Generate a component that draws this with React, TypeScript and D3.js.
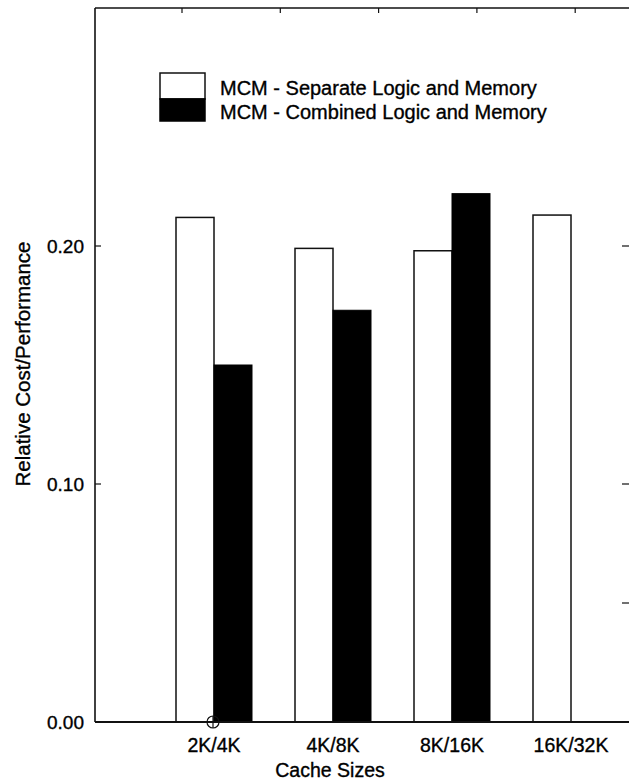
import React from "react";
import * as d3 from "d3";

// Cache size configurations along the x axis
const categories = ["2K/4K", "4K/8K", "8K/16K", "16K/32K"];
// Relative cost/performance per configuration
const separateValues = [0.212, 0.199, 0.198, 0.213];
const combinedValues: (number | null)[] = [0.15, 0.173, 0.222, null];
const seriesNames = ["MCM - Separate Logic and Memory", "MCM - Combined Logic and Memory"];
const yTicks = [0.0, 0.1, 0.2];
const rightTicks = [0.05, 0.1, 0.2];
const topTicks = [1, 2, 3, 4, 5];

const W = 629;
const H = 782;
const FONT = "'Liberation Sans', Arial, Helvetica, sans-serif";
const textStyle = { fontFamily: FONT, fill: "#000", stroke: "#000", strokeWidth: 0.35 };

export default function App() {
  const left = 95;
  const top = 8;
  const bottom = 722;
  const right = 634;

  const y = d3.scaleLinear().domain([0, 0.3]).range([bottom, top]);
  const x = d3.scaleBand<string>().domain(categories).range([154.5, 630.5]).padding(0);
  const barW = 38;
  const sub = d3
    .scaleBand<string>()
    .domain(["sep", "comb"])
    .range([0, x.bandwidth()])
    .paddingInner(0)
    .paddingOuter((x.bandwidth() - 2 * barW) / 2 / barW);
  const xTop = d3.scaleLinear().domain([0, 1]).range([83.7, 182]);

  const fmt = d3.format(".2f");
  const stroke = "#111";
  const cx0 = x(categories[0])! + x.bandwidth() / 2 - 1;

  return (
    <svg width={W} height={H} style={{ position: "absolute", left: 0, top: 0, background: "#fff" }}>
      <rect x={0} y={0} width={W} height={H} fill="#fff" />
      {/* bars */}
      {categories.map((c, i) => {
        const x0 = x(c)!;
        const s = separateValues[i];
        const cb = combinedValues[i];
        return (
          <g key={c}>
            <rect
              x={x0 + sub("sep")!}
              y={y(s)}
              width={sub.bandwidth()}
              height={y(0) - y(s)}
              fill="#fff"
              stroke={stroke}
              strokeWidth={1.5}
            />
            {cb != null && (
              <rect
                x={x0 + sub("comb")!}
                y={y(cb)}
                width={sub.bandwidth()}
                height={y(0) - y(cb)}
                fill="#000"
                stroke="#000"
                strokeWidth={1}
              />
            )}
          </g>
        );
      })}

      {/* frame */}
      <line x1={left} x2={left} y1={top} y2={bottom} stroke={stroke} strokeWidth={1.6} />
      <line x1={left} x2={right} y1={top} y2={top} stroke={stroke} strokeWidth={1.4} />
      <line x1={left} x2={right} y1={bottom} y2={bottom} stroke={stroke} strokeWidth={1.8} />

      {/* top frame ticks */}
      {topTicks.map((t) => (
        <line key={t} x1={xTop(t)} x2={xTop(t)} y1={top} y2={top + 5} stroke={stroke} strokeWidth={1.2} />
      ))}
      {/* right frame ticks */}
      {rightTicks.map((t) => (
        <line key={t} x1={622} x2={629} y1={y(t)} y2={y(t)} stroke={stroke} strokeWidth={1.2} />
      ))}

      {/* y axis ticks and labels */}
      {yTicks.map((t) => (
        <g key={t}>
          <line x1={left} x2={left + 6} y1={y(t)} y2={y(t)} stroke={stroke} strokeWidth={1.2} />
          <text x={left - 11} y={y(t)} dy="0.35em" textAnchor="end" fontSize={19} {...textStyle}>
            {fmt(t)}
          </text>
        </g>
      ))}

      {/* origin marker */}
      <circle cx={cx0} cy={bottom} r={6} fill="none" stroke={stroke} strokeWidth={1.2} />
      <line x1={cx0 - 6} x2={cx0 + 6} y1={bottom} y2={bottom} stroke={stroke} strokeWidth={1.2} />
      <line x1={cx0} x2={cx0} y1={bottom - 6} y2={bottom + 6} stroke={stroke} strokeWidth={1.2} />

      {/* x tick labels */}
      {categories.map((c) => (
        <text key={c} x={x(c)! + x.bandwidth() / 2} y={752} textAnchor="middle" fontSize={19.5} {...textStyle}>
          {c}
        </text>
      ))}

      {/* axis titles */}
      <text x={330} y={777} textAnchor="middle" fontSize={19.5} {...textStyle}>
        Cache Sizes
      </text>
      <text transform={`translate(30, 364) rotate(-90)`} textAnchor="middle" fontSize={20.5} {...textStyle}>
        Relative Cost/Performance
      </text>

      {/* legend */}
      <g>
        <rect x={160} y={73} width={45} height={26} fill="#fff" stroke={stroke} strokeWidth={1.5} />
        <rect x={160} y={99} width={45} height={22} fill="#000" stroke="#000" strokeWidth={1.5} />
        {seriesNames.map((n, i) => (
          <text key={n} x={220} y={95 + i * 24} fontSize={20} {...textStyle}>
            {n}
          </text>
        ))}
      </g>
    </svg>
  );
}
